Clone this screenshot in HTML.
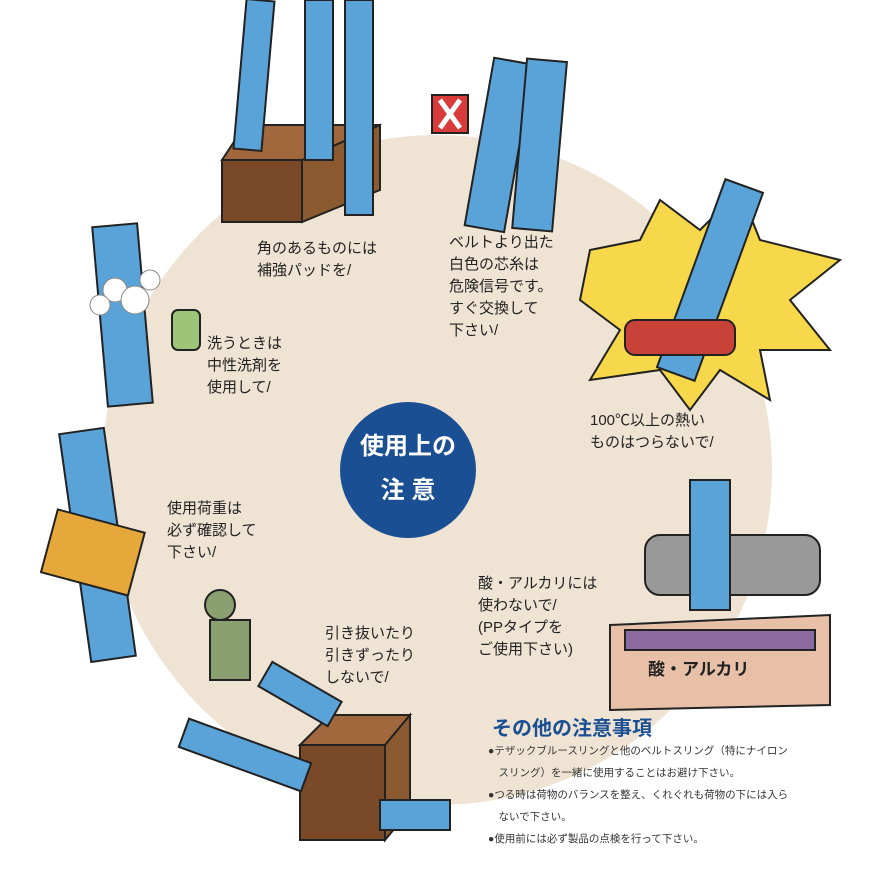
<!DOCTYPE html>
<html><head><meta charset="utf-8"><style>
body{margin:0;background:#fff;}
.w{position:relative;width:870px;height:870px;overflow:hidden;font-family:"Liberation Sans","Noto Sans CJK JP",sans-serif;color:#222;}
.t{position:absolute;font-size:15px;line-height:22px;}
.n{position:absolute;font-size:10.5px;line-height:22px;color:#333;}
</style></head><body><div class="w">
<svg width="870" height="870" style="position:absolute;left:0;top:0">
<circle cx="437" cy="470" r="335" fill="#efe4d4"/>
<circle cx="408" cy="470" r="68" fill="#1b4f93"/>
<!-- top box with slings -->
<g stroke="#222" stroke-width="2">
<polygon points="222,160 245,125 380,125 360,160" fill="#a0683c"/>
<rect x="222" y="160" width="80" height="62" fill="#7a4a28"/>
<polygon points="302,160 380,125 380,190 302,222" fill="#8b5a30"/>
<rect x="240" y="0" width="28" height="150" fill="#5aa3d8" transform="rotate(5 254 75)"/>
<rect x="305" y="0" width="28" height="160" fill="#5aa3d8"/>
<rect x="345" y="0" width="28" height="215" fill="#5aa3d8"/>
<!-- belt with X -->
<rect x="480" y="60" width="40" height="170" fill="#5aa3d8" transform="rotate(10 500 140)"/>
<rect x="520" y="60" width="40" height="170" fill="#5aa3d8" transform="rotate(5 540 140)"/>
<rect x="432" y="95" width="36" height="38" fill="#d93a3a"/>
<!-- heat -->
<polygon points="590,250 640,240 660,200 700,230 740,190 760,240 840,260 790,300 830,350 760,350 770,400 720,370 690,410 660,370 590,380 620,330 580,300" fill="#f6d84a"/>
<rect x="690" y="180" width="40" height="200" fill="#5aa3d8" transform="rotate(20 710 280)"/>
<rect x="625" y="320" width="110" height="35" fill="#c9423a" rx="10"/>
<!-- pipe -->
<rect x="645" y="535" width="175" height="60" fill="#999" rx="15"/>
<rect x="690" y="480" width="40" height="130" fill="#5aa3d8"/>
<polygon points="610,625 830,615 830,705 610,710" fill="#e8c0a8"/>
<rect x="625" y="630" width="190" height="20" fill="#8c6aa0"/>
<!-- bottom box -->
<polygon points="300,745 330,715 410,715 385,745" fill="#a0683c"/>
<rect x="300" y="745" width="85" height="95" fill="#7a4a28"/>
<polygon points="385,745 410,715 410,810 385,840" fill="#8b5a30"/>
<rect x="180" y="740" width="130" height="30" fill="#5aa3d8" transform="rotate(20 245 755)"/>
<rect x="380" y="800" width="70" height="30" fill="#5aa3d8"/>
<!-- worker -->
<rect x="210" y="620" width="40" height="60" fill="#8aa070"/>
<circle cx="220" cy="605" r="15" fill="#8aa070"/>
<rect x="260" y="680" width="80" height="28" fill="#5aa3d8" transform="rotate(30 300 694)"/>
<!-- left belts -->
<rect x="75" y="430" width="45" height="230" fill="#5aa3d8" transform="rotate(-8 97 545)"/>
<rect x="48" y="520" width="90" height="65" fill="#e6a83a" transform="rotate(15 93 552)"/>
<rect x="100" y="225" width="45" height="180" fill="#5aa3d8" transform="rotate(-5 122 315)"/>
<rect x="172" y="310" width="28" height="40" fill="#9cc57a" rx="6"/>
</g>
<g fill="#fff" stroke="#888"><circle cx="115" cy="290" r="12"/><circle cx="135" cy="300" r="14"/><circle cx="150" cy="280" r="10"/><circle cx="100" cy="305" r="10"/></g>
<path d="M440 100 L460 128 M460 100 L440 128" stroke="#fff" stroke-width="5"/>
</svg>
<div style="position:absolute;left:340px;top:425px;width:136px;text-align:center;color:#fff;font-size:24px;line-height:44px;font-weight:bold">使用上の<br>注 意</div>
<div class="t" style="left:257px;top:238px">角のあるものには<br>補強パッドを/</div>
<div class="t" style="left:449px;top:232px">ベルトより出た<br>白色の芯糸は<br>危険信号です。<br>すぐ交換して<br>下さい/</div>
<div class="t" style="left:207px;top:333px">洗うときは<br>中性洗剤を<br>使用して/</div>
<div class="t" style="left:590px;top:410px">100℃以上の熱い<br>ものはつらないで/</div>
<div class="t" style="left:167px;top:498px">使用荷重は<br>必ず確認して<br>下さい/</div>
<div class="t" style="left:478px;top:573px">酸・アルカリには<br>使わないで/<br>(PPタイプを<br>ご使用下さい)</div>
<div class="t" style="left:325px;top:623px">引き抜いたり<br>引きずったり<br>しないで/</div>
<div style="position:absolute;left:648px;top:655px;font-size:17px;font-weight:bold">酸・アルカリ</div>
<div style="position:absolute;left:492px;top:712px;font-size:20px;font-weight:bold;color:#1b4f93">その他の注意事項</div>
<div class="n" style="left:488px;top:740px">●テザックブルースリングと他のベルトスリング（特にナイロン<br>　スリング）を一緒に使用することはお避け下さい。<br>●つる時は荷物のバランスを整え、くれぐれも荷物の下には入ら<br>　ないで下さい。<br>●使用前には必ず製品の点検を行って下さい。</div>
</div></body></html>
